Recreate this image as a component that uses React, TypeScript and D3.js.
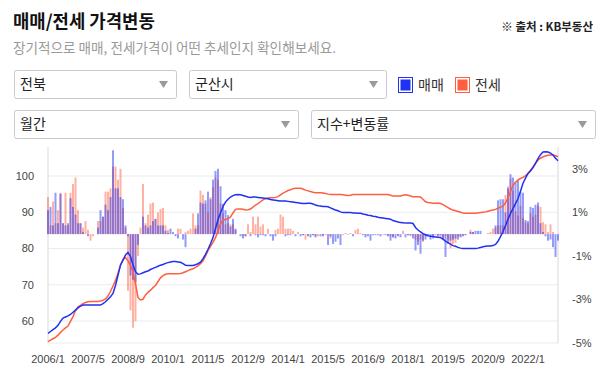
import React from "react";
import * as d3 from "d3";

const START_YEAR = 2006;
const N_MONTHS = 205;
const months: string[] = d3.range(N_MONTHS).map((i) => `${START_YEAR + Math.floor(i / 12)}/${(i % 12) + 1}`);

const xTickLabels = ["2006/1", "2007/5", "2008/9", "2010/1", "2011/5", "2012/9", "2014/1", "2015/5", "2016/9", "2018/1", "2019/5", "2020/9", "2022/1"];
const leftTicks = [60, 70, 80, 90, 100];
const rightTicks = [-5, -3, -1, 1, 3];

// 매매 index
const saleIndex = [
  56.6, 57.1, 57.6, 58.1, 58.8, 59.9, 60.8, 61.1, 61.4, 61.8, 62.4, 63.0, 63.6, 64.1, 64.4, 64.4, 64.4, 64.4, 64.4, 64.4,
  64.4, 64.4, 64.8, 65.3, 66.0, 66.7, 67.6, 69.8, 72.6, 75.4, 76.8, 78.2, 78.9, 77.8, 75.5, 73.6, 72.9, 73.0, 73.3, 73.6,
  73.8, 74.2, 74.5, 74.8, 75.1, 75.4, 75.6, 75.9, 76.1, 76.3, 76.4, 76.4, 76.3, 76.2, 75.8, 75.4, 75.3, 75.3, 75.3, 75.5,
  75.8, 76.2, 77.2, 78.4, 79.8, 81.3, 83.0, 85.5, 88.0, 89.8, 91.6, 92.8, 93.6, 94.2, 94.6, 94.8, 94.9, 94.8, 94.6, 94.4,
  94.2, 94.1, 94.2, 94.2, 94.1, 94.0, 93.9, 93.8, 93.7, 93.5, 93.4, 93.3, 93.2, 93.1, 93.1, 93.1, 93.0, 92.9, 92.8, 92.7,
  92.6, 92.5, 92.4, 92.4, 92.5, 92.5, 92.3, 92.0, 91.8, 91.7, 91.6, 91.6, 91.5, 91.2, 90.9, 90.6, 90.4, 90.1, 89.9, 89.9,
  89.9, 89.9, 89.8, 89.8, 89.7, 89.7, 89.5, 89.4, 89.2, 89.1, 88.9, 88.8, 88.6, 88.5, 88.4, 88.3, 88.2, 88.1, 87.7, 87.5,
  87.3, 87.2, 87.1, 87.0, 87.0, 87.0, 86.9, 85.8, 85.1, 84.6, 84.1, 83.8, 83.5, 83.4, 83.3, 83.2, 83.1, 83.0, 82.6, 82.0,
  81.6, 81.2, 80.8, 80.6, 80.3, 80.1, 80.0, 80.0, 80.0, 80.0, 80.0, 80.0, 80.1, 80.3, 80.5, 80.6, 80.7, 80.7, 80.8, 81.1,
  82.0, 83.3, 84.7, 86.3, 88.1, 89.7, 91.0, 92.4, 93.8, 95.8, 98.0, 99.4, 100.7, 101.4, 102.3, 103.5, 104.8, 105.9, 106.6, 106.7,
  106.6, 106.3, 105.8, 104.9, 104.2,
];

// 전세 index
const rentIndex = [
  54.3, 54.7, 55.1, 55.5, 56.1, 56.8, 57.5, 58.1, 58.6, 59.9, 61.2, 62.9, 63.9, 64.3, 64.8, 65.1, 65.3, 65.4, 65.4, 65.4,
  65.4, 65.5, 65.7, 66.1, 66.9, 68.2, 69.6, 71.2, 73.2, 75.5, 77.0, 77.5, 76.6, 75.3, 73.5, 70.2, 66.5, 65.8, 66.0, 67.2,
  67.9, 68.5, 69.2, 69.8, 70.9, 71.9, 72.5, 72.9, 73.0, 73.0, 73.0, 73.0, 73.0, 73.1, 73.3, 73.6, 73.9, 74.2, 74.4, 74.8,
  75.2, 75.8, 76.6, 77.9, 79.4, 80.6, 81.7, 83.0, 84.8, 86.8, 87.8, 88.0, 88.2, 88.7, 89.8, 90.8, 90.9, 90.9, 90.8, 90.6,
  90.7, 90.9, 91.4, 92.0, 92.4, 92.9, 93.4, 93.8, 93.9, 94.0, 94.0, 94.1, 94.3, 94.8, 95.3, 95.6, 96.0, 96.2, 96.5, 96.6,
  96.6, 96.6, 96.4, 96.1, 95.9, 95.7, 95.5, 95.4, 95.4, 95.4, 95.3, 95.2, 95.0, 94.9, 94.9, 94.9, 94.9, 94.9, 94.8, 94.7,
  94.6, 94.7, 94.9, 94.9, 94.9, 94.9, 94.9, 94.9, 94.9, 94.9, 94.9, 94.9, 94.9, 94.9, 94.9, 94.9, 94.9, 94.7, 94.5, 94.5,
  94.5, 94.5, 94.7, 94.8, 94.7, 94.5, 94.3, 94.3, 94.3, 94.2, 93.6, 92.9, 92.7, 92.6, 92.5, 92.5, 92.5, 92.4, 92.1, 91.7,
  91.3, 90.9, 90.6, 90.4, 90.2, 90.0, 89.8, 89.7, 89.7, 89.7, 89.7, 89.7, 89.8, 89.9, 90.0, 90.1, 90.3, 90.5, 90.6, 90.8,
  91.1, 91.4, 91.7, 92.6, 94.0, 95.7, 97.4, 98.3, 98.9, 99.3, 99.6, 100.1, 100.7, 101.6, 102.5, 103.5, 104.4, 104.9, 105.3, 105.5,
  105.7, 105.8, 105.8, 105.6, 105.3,
];

// 매매 monthly change (%)
const saleChange = [
  1.1, 1.25, 0.4, 1.9, 0.5, 1.85, 0.5, 0.4, 0.5, 1.65, 1.25, 0.9, 0.5, 0.5, 0.1, 0, -0.1, 0, 0, 0,
  0.3, 1.1, 0.8, 1.35, 1.1, 1.7, 3.85, 2.1, 2.1, 1.7, 1.6, 0.4, -0.1, -1.9, -2.1, -2.2, -0.5, 0, 0.8, 0.4,
  0.3, 0.4, 0.6, 0.7, 0.4, 0.4, 0.4, 0.15, 0.05, 0.25, 0.1, -0.1, -0.2, 0, -0.25, -0.6, 0, 0, 0, 0.25,
  0.95, 1.45, 1.4, 1.55, 1.95, 1.6, 2.5, 2.9, 3.0, 2.2, 1.4, 1.1, 0.87, 0.35, 0.7, 0.25, 0, -0.1, -0.2, -0.1,
  0, -0.1, 0, -0.05, -0.15, -0.05, -0.05, -0.1, 0, -0.1, -0.3, -0.1, 0, 0, 0, -0.1, -0.05, -0.05, 0, -0.1,
  0, -0.1, -0.05, 0, -0.1, -0.15, -0.05, -0.15, 0, -0.1, -0.1, 0, -0.5, -0.1, -0.45, -0.35, -0.2, -0.5, 0, 0,
  -0.02, 0, -0.1, 0, 0, 0, -0.05, -0.15, -0.1, -0.3, -0.05, -0.05, -0.05, -0.1, -0.02, -0.05, -0.1, -0.3, -0.15, -0.2,
  -0.1, -0.15, 0, -0.15, -0.05, -0.05, -0.2, -0.75, -0.5, -0.9, -0.3, -0.25, -0.05, -0.25, -0.2, -0.05, -0.1, -0.05, -0.25, -1.05,
  -0.45, -0.3, -0.25, -0.2, -0.25, -0.15, -0.1, -0.05, 0, 0.1, 0.1, 0.15, 0.15, 0.15, 0, 0, 0, 0, 0, 0.4,
  1.55, 1.6, 1.6, 1.0, 2.1, 2.75, 2.6, 2.4, 2.45, 1.95, 1.9, 0.65, 0.6, 1.25, 1.2, 1.35, 1.45, 0.5, 0.1, -0.1,
  -0.3, -0.25, -0.6, -1.05, -0.3,
];

// 전세 monthly change (%)
const rentChange = [
  1.7, 0.4, 1.5, 0.5, 1.1, 1.9, 0.5, 1.9, 0.4, 1.9, 2.3, 2.6, 1.1, 0.5, 0.3, 0.6, 0.2, -0.3, -0.1, 0,
  0.6, 0.6, 0.8, 1.95, 1.95, 2.1, 3.1, 3.1, 2.5, 3.0, 1.2, 0.3, -2.6, -3.5, -4.3, -4.0, -1.0, 0.3, 2.3, 0.5,
  0.9, 1.4, 1.45, 0.7, 1.0, 1.15, 1.2, 0.4, 0.2, 0, 0, 0, 0.25, 0.25, 0, 0.1, 0.15, 0.25, 0.95, 0.4,
  0.4, 2.0, 1.8, 1.4, 1.0, 1.7, 2.15, 2.6, 2.5, 1.4, 0.95, 0.45, 0.5, 0.45, 0.45, 0.2, 0, 0, -0.05, -0.1,
  0.45, 0.1, 0.8, 0.45, 0.8, 0.35, 0.45, 0, 0.25, 0, 0, 0.2, 0.25, 0.9, 0.8, 0.25, 0.25, 0.25, 0.15, 0,
  0.1, 0, -0.05, -0.25, -0.05, 0, -0.05, -0.1, -0.1, 0, -0.05, -0.05, 0, -0.2, 0, 0, 0, 0, -0.05, 0.05,
  0, 0.05, 0, 0.2, 0.25, 0.05, 0, -0.05, 0, 0, 0, 0, 0, 0, 0, 0, -0.05, -0.1, -0.15, 0,
  -0.05, 0, 0.15, 0, -0.05, -0.1, -0.05, -0.25, -0.35, -0.25, -0.35, -0.1, -0.05, 0, -0.05, 0, -0.05, -0.15, -0.2, -0.1,
  -0.25, -0.65, -0.45, -0.4, -0.1, -0.1, -0.05, -0.05, 0, 0.2, 0.1, 0, 0, 0, 0, 0, 0.05, 0.1, 0.25, 0.3,
  0.4, 0.4, 0.4, 1.8, 2.2, 2.55, 2.0, 1.05, 0.85, 1.3, 0.75, 0.55, 0.5, 0.95, 0.8, 0.9, 1.3, 1.25, 0.55, 0.45,
  0.1, 0.45, 0.1, 0, 0,
];

const BLUE = "#1f31f2";
const RED = "#ff5e3f";
const KR = "'Noto Sans CJK KR', 'Noto Sans', sans-serif";
const AX = "'Liberation Sans', Arial, sans-serif";

const Dropdown = ({ x, y, w, h, label }: { x: number; y: number; w: number; h: number; label: string }) => (
  <g>
    <rect x={x + 0.5} y={y + 0.5} width={w} height={h} rx={2} fill="#fff" stroke="#c9c9cf" strokeWidth={1} />
    <text x={x + 6} y={y + h / 2 + 5} fontFamily={KR} fontSize={14} fill="#222">
      {label}
    </text>
    <path d={`M${x + w - 17},${y + h / 2 - 3} L${x + w - 8},${y + h / 2 - 3} L${x + w - 12.5},${y + h / 2 + 4} Z`} fill="#9a9a9a" />
  </g>
);

export default function App() {
  const W = 607;
  const H = 382;
  const left = 48;
  const right = 558;
  const top = 147;
  const bottom = 343;

  const x = d3.scalePoint<string>().domain(months).range([left, right]);
  const yL = d3.scaleLinear().domain([53.93, 108]).range([bottom, top]);
  const yR = d3.scaleLinear().domain([-5, 4]).range([bottom, top]);

  const saleLine = d3
    .line<number>()
    .x((_, i) => x(months[i]) as number)
    .y((d) => yL(d))(saleIndex) as string;
  const rentLine = d3
    .line<number>()
    .x((_, i) => x(months[i]) as number)
    .y((d) => yL(d))(rentIndex) as string;

  const barW = 2;
  const bars = (vals: number[], color: string, op: number) =>
    vals.map((v, i) => {
      const y0 = yR(0);
      const y1 = yR(v);
      const h = Math.abs(y1 - y0);
      if (h < 0.01) return null;
      return (
        <rect
          key={i}
          x={(x(months[i]) as number) - barW / 2}
          y={Math.min(y0, y1)}
          width={barW}
          height={h}
          fill={color}
          fillOpacity={op}
        />
      );
    });

  return (
    <svg width={W} height={H} style={{ position: "absolute", left: 0, top: 0, background: "#fff" }}>
      <text x={13} y={28} fontFamily={KR} fontSize={17.8} fontWeight={700} fill="#111">
        매매/전세 가격변동
      </text>
      <text x={593} y={31} textAnchor="end" fontFamily={KR} fontSize={11.5} fontWeight={700} fill="#222">
        ※ 출처 : KB부동산
      </text>
      <text x={13} y={53} fontFamily={KR} fontSize={13.6} fill="#9a9a9a">
        장기적으로 매매, 전세가격이 어떤 추세인지 확인해보세요.
      </text>

      <Dropdown x={14} y={70} w={162} h={28} label="전북" />
      <Dropdown x={189} y={70} w={197} h={28} label="군산시" />
      <Dropdown x={14} y={110} w={284} h={28} label="월간" />
      <Dropdown x={311} y={110} w={284} h={28} label="지수+변동률" />

      <rect x={398.5} y={77.5} width={14} height={15} fill="#fff" stroke={BLUE} strokeWidth={1} />
      <rect x={400.5} y={79.5} width={10} height={11} fill={BLUE} />
      <text x={418} y={90} fontFamily={KR} fontSize={14} fill="#333">
        매매
      </text>
      <rect x={455.5} y={77.5} width={14} height={15} fill="#fff" stroke={RED} strokeWidth={1} />
      <rect x={457.5} y={79.5} width={10} height={11} fill={RED} />
      <text x={475} y={90} fontFamily={KR} fontSize={14} fill="#333">
        전세
      </text>

      {/* grid */}
      {leftTicks.map((t) => (
        <line key={t} x1={left} x2={right} y1={yL(t)} y2={yL(t)} stroke="#ebebeb" strokeWidth={1.2} />
      ))}
      <line x1={left} x2={right} y1={bottom} y2={bottom} stroke="#ebebeb" strokeWidth={1.2} />
      <line x1={left} x2={left} y1={top} y2={bottom} stroke="#e6e6e6" strokeWidth={1.5} />
      <line x1={right} x2={right} y1={top} y2={bottom} stroke="#e6e6e6" strokeWidth={1.5} />

      {/* bars */}
      <g>{bars(rentChange, RED, 0.48)}</g>
      <g>{bars(saleChange, BLUE, 0.48)}</g>

      {/* lines */}
      <path d={rentLine} fill="none" stroke={RED} strokeWidth={1.5} />
      <path d={saleLine} fill="none" stroke={BLUE} strokeWidth={1.5} />

      {/* axes labels */}
      {leftTicks.map((t) => (
        <text key={t} x={34} y={yL(t) + 4} textAnchor="end" fontFamily={AX} fontSize={11} fill="#444">
          {t}
        </text>
      ))}
      {rightTicks.map((t) => (
        <text key={t} x={572} y={yR(t) + 4} textAnchor="start" fontFamily={AX} fontSize={11} fill="#444">
          {`${t}%`}
        </text>
      ))}
      {xTickLabels.map((l) => (
        <text key={l} x={x(l) as number} y={363} textAnchor="middle" fontFamily={AX} fontSize={11} fill="#444">
          {l}
        </text>
      ))}
    </svg>
  );
}
